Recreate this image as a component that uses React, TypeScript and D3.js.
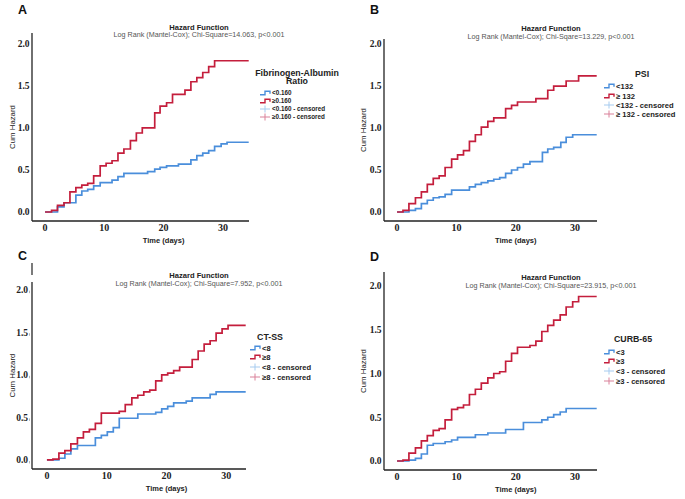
import * as d3 from "d3";

// step times (days) and cumulative hazard values
const aLowT = [2.1, 3.2, 5.2, 6.2, 7.2, 8.2, 9.3, 11.3, 12.3, 13.3, 17.3, 18.5, 19.4, 20.5, 22.5, 24.6, 25.6, 26.6, 27.6, 28.6, 29.7, 30.7];
const aLowH = [0.06, 0.11, 0.2, 0.25, 0.27, 0.31, 0.35, 0.38, 0.42, 0.46, 0.48, 0.51, 0.53, 0.55, 0.57, 0.62, 0.67, 0.7, 0.73, 0.78, 0.81, 0.83];
const aHighT = [1.1, 2.1, 3.2, 4.2, 5.2, 6.2, 7.2, 8.2, 9.3, 10.3, 11.3, 12.3, 13.3, 14.4, 15.4, 16.4, 18.5, 19.4, 20.5, 21.5, 23.6, 24.6, 25.6, 26.6, 27.6, 28.6];
const aHighH = [0.02, 0.08, 0.11, 0.24, 0.29, 0.32, 0.34, 0.43, 0.55, 0.58, 0.61, 0.7, 0.75, 0.85, 0.94, 1.0, 1.18, 1.26, 1.3, 1.4, 1.45, 1.55, 1.6, 1.66, 1.73, 1.8];

const bLowT = [2.0, 3.1, 4.1, 5.1, 6.1, 7.1, 8.1, 9.2, 12.2, 13.2, 14.2, 15.3, 16.3, 17.3, 18.3, 19.3, 20.3, 21.3, 22.4, 24.5, 25.4, 26.4, 27.6, 28.5, 29.6];
const bLowH = [0.02, 0.04, 0.1, 0.14, 0.17, 0.18, 0.21, 0.26, 0.3, 0.33, 0.35, 0.37, 0.39, 0.41, 0.46, 0.5, 0.53, 0.57, 0.6, 0.71, 0.75, 0.77, 0.83, 0.89, 0.92];
const bHighT = [1.0, 2.0, 3.1, 4.1, 5.1, 6.1, 7.1, 8.1, 9.2, 10.2, 11.2, 12.2, 13.2, 14.2, 15.3, 16.3, 18.3, 19.3, 20.3, 23.4, 25.4, 26.4, 28.5, 30.6];
const bHighH = [0.02, 0.1, 0.17, 0.24, 0.33, 0.4, 0.43, 0.53, 0.63, 0.68, 0.73, 0.84, 0.92, 1.01, 1.08, 1.12, 1.23, 1.27, 1.31, 1.35, 1.45, 1.5, 1.56, 1.62];

const cLowT = [2.0, 3.0, 4.0, 5.1, 8.1, 9.1, 10.1, 11.1, 12.1, 15.2, 18.2, 19.2, 20.2, 21.2, 23.3, 24.3, 27.3, 28.3];
const cLowH = [0.02, 0.07, 0.13, 0.17, 0.26, 0.29, 0.33, 0.38, 0.49, 0.54, 0.56, 0.6, 0.63, 0.67, 0.69, 0.73, 0.77, 0.8];
const cHighT = [1.0, 2.0, 3.0, 4.0, 5.1, 6.1, 7.1, 8.1, 9.1, 12.1, 13.1, 14.2, 15.2, 16.2, 17.2, 18.2, 19.2, 20.2, 21.2, 22.2, 24.3, 25.3, 26.3, 27.3, 28.3, 29.3, 30.3];
const cHighH = [0.01, 0.08, 0.11, 0.19, 0.26, 0.33, 0.36, 0.43, 0.55, 0.57, 0.65, 0.73, 0.76, 0.8, 0.82, 0.93, 1.0, 1.02, 1.05, 1.09, 1.18, 1.28, 1.36, 1.4, 1.49, 1.54, 1.58];

const dLowT = [2.0, 3.1, 4.1, 5.1, 6.1, 8.1, 9.2, 10.2, 13.2, 15.3, 18.3, 21.3, 24.4, 25.4, 26.4, 27.5, 28.5];
const dLowH = [0.01, 0.03, 0.08, 0.18, 0.2, 0.22, 0.24, 0.27, 0.3, 0.32, 0.36, 0.44, 0.47, 0.5, 0.53, 0.56, 0.6];
const dHighT = [1.0, 2.0, 3.1, 4.1, 5.1, 6.1, 7.1, 8.1, 9.2, 10.2, 11.2, 12.2, 13.2, 14.2, 15.3, 16.3, 17.3, 18.3, 19.3, 20.3, 22.4, 23.4, 24.4, 25.4, 26.4, 27.5, 28.5, 29.6, 30.6];
const dHighH = [0.01, 0.09, 0.15, 0.23, 0.29, 0.35, 0.37, 0.47, 0.59, 0.61, 0.64, 0.76, 0.82, 0.89, 0.95, 1.0, 1.02, 1.14, 1.23, 1.3, 1.32, 1.37, 1.48, 1.55, 1.61, 1.67, 1.76, 1.82, 1.88];

const xTicks = [0, 10, 20, 30];
const yTicks = [0, 0.5, 1.0, 1.5, 2.0];

const BLUE = "#4a8edb";
const RED = "#c41e3c";
const BLUE_C = "#a6cbef";
const RED_C = "#d98099";
const SANS = "'Liberation Sans', Arial, sans-serif";
const SERIF = "'Liberation Serif', 'Times New Roman', serif";

type Panel = {
  letter: string; lx: number; ly: number;
  left: number; right: number; top: number; bottom: number;
  xDom: [number, number]; yDom: [number, number];
  titleX: number; titleY: number; subY: number; sub: string;
  legTitle: string[]; legX: number; legTitleY: number; legYs: number[]; legFont: number; symX: number;
  labels: string[];
  low: [number[], number[]]; high: [number[], number[]];
  yLabX: number; tickMarks?: boolean; stub?: boolean;
};

const panels: Panel[] = [
  {
    letter: "A", lx: 18, ly: 14, left: 32, right: 249, top: 33, bottom: 221,
    xDom: [-2.2, 34.4], yDom: [-0.107, 2.13],
    titleX: 199, titleY: 29.5, subY: 37, sub: "Log Rank (Mantel-Cox); Chi-Square=14.063, p<0.001",
    legTitle: ["Fibrinogen-Albumin", "Ratio"], legX: 297, legTitleY: 75.5, legYs: [93, 101, 109, 117], legFont: 6.3, symX: 260,
    labels: ["<0.160", "≥0.160", "<0.160 - censored", "≥0.160 - censored"],
    low: [aLowT, aLowH], high: [aHighT, aHighH], yLabX: 12,
  },
  {
    letter: "B", lx: 370, ly: 14, left: 384, right: 597, top: 39, bottom: 221,
    xDom: [-2.2, 33.7], yDom: [-0.107, 2.06],
    titleX: 551, titleY: 31, subY: 38.5, sub: "Log Rank (Mantel-Cox); Chi-Sqare=13.229, p<0.001",
    legTitle: ["PSI"], legX: 642, legTitleY: 77, legYs: [86, 96, 105, 114], legFont: 7.6, symX: 604,
    labels: ["<132", "≥ 132", "<132 - censored", "≥ 132 - censored"],
    low: [bLowT, bLowH], high: [bHighT, bHighH], yLabX: 363,
  },
  {
    letter: "C", lx: 18, ly: 260, left: 32, right: 246, top: 282, bottom: 469,
    xDom: [-2.5, 33.3], yDom: [-0.106, 2.09],
    titleX: 199, titleY: 277.5, subY: 285.5, sub: "Log Rank (Mantel-Cox); Chi-Square=7.952, p<0.001",
    legTitle: ["CT-SS"], legX: 270, legTitleY: 339.5, legYs: [348, 357, 367, 377], legFont: 7.6, symX: 250,
    labels: ["<8", "≥8", "<8 - censored", "≥8 - censored"],
    low: [cLowT, cLowH], high: [cHighT, cHighH], yLabX: 12, tickMarks: true, stub: true,
  },
  {
    letter: "D", lx: 370, ly: 261, left: 384, right: 597, top: 272, bottom: 470,
    xDom: [-2.2, 33.7], yDom: [-0.103, 2.16],
    titleX: 551, titleY: 280, subY: 287.5, sub: "Log Rank (Mantel-Cox); Chi-Square=23.915, p<0.001",
    legTitle: ["CURB-65"], legX: 633, legTitleY: 342, legYs: [352, 361, 371, 381], legFont: 7.6, symX: 604,
    labels: ["<3", "≥3", "<3 - censored", "≥3 - censored"],
    low: [dLowT, dLowH], high: [dHighT, dHighH], yLabX: 363,
  },
];

function stepPath(p: Panel, t: number[], h: number[]) {
  const x = d3.scaleLinear().domain(p.xDom).range([p.left, p.right]);
  const y = d3.scaleLinear().domain(p.yDom).range([p.bottom, p.top]);
  const pts: [number, number][] = [[0, 0]];
  t.forEach((ti, i) => pts.push([ti, h[i]]));
  pts.push([p.xDom[1] - 0.05, h[h.length - 1]]);
  const line = d3.line<[number, number]>().x(d => x(d[0])).y(d => y(d[1])).curve(d3.curveStepAfter);
  return line(pts) ?? "";
}

function PanelView({ p }: { p: Panel }) {
  const x = d3.scaleLinear().domain(p.xDom).range([p.left, p.right]);
  const y = d3.scaleLinear().domain(p.yDom).range([p.bottom, p.top]);
  const fmt = d3.format(".1f");
  const cy = (p.top + p.bottom) / 2;
  const tx = p.symX + 12;
  return (
    <g>
      <text x={p.lx} y={p.ly} fontFamily={SANS} fontWeight="bold" fontSize={12.5} fill="#111">{p.letter}</text>
      {p.stub && <line x1={p.left} x2={p.left} y1={p.top - 19} y2={p.top - 7} stroke="#222" strokeWidth={1.2} />}
      <text x={p.titleX} y={p.titleY} textAnchor="middle" fontFamily={SANS} fontWeight="bold" fontSize={7.6} fill="#222">Hazard Function</text>
      <text x={p.titleX} y={p.subY} textAnchor="middle" fontFamily={SANS} fontSize={7.2} fill="#555">{p.sub}</text>

      <path d={stepPath(p, p.low[0], p.low[1])} fill="none" stroke={BLUE} strokeWidth={1.7} />
      <path d={stepPath(p, p.high[0], p.high[1])} fill="none" stroke={RED} strokeWidth={1.7} />

      <line x1={p.left} x2={p.left} y1={p.top} y2={p.bottom} stroke="#222" strokeWidth={1.3} />
      <line x1={p.left} x2={p.right} y1={p.bottom} y2={p.bottom} stroke="#222" strokeWidth={1.3} />

      {yTicks.map(v => (
        <g key={v}>
          <text x={p.left - (p.tickMarks ? 4 : 2.5)} y={y(v)} dy="0.35em" textAnchor="end" fontFamily={SERIF} fontWeight="bold" fontSize={9.5} fill="#222">{fmt(v)}</text>
          {p.tickMarks && <line x1={p.left - 2.5} x2={p.left - 2.5} y1={y(v) + 1} y2={y(v) + 3.5} stroke="#999" strokeWidth={0.7} />}
        </g>
      ))}
      {xTicks.map(v => (
        <text key={v} x={x(v)} y={p.bottom + 9.5} textAnchor="middle" fontFamily={SERIF} fontWeight="bold" fontSize={10} fill="#222">{v}</text>
      ))}
      <text transform={`translate(${p.yLabX},${cy}) rotate(-90)`} textAnchor="middle" dy="0.35em" fontFamily={SANS} fontSize={7.8} fill="#222">Cum Hazard</text>
      <text x={x(20)} y={p.bottom + 21.5} textAnchor="middle" fontFamily={SANS} fontWeight="bold" fontSize={7.5} fill="#222">Time (days)</text>

      {p.legTitle.map((s, i) => (
        <text key={s} x={p.legX} y={p.legTitleY + i * 8.5} textAnchor="middle" fontFamily={SANS} fontWeight="bold" fontSize={8.8} fill="#222">{s}</text>
      ))}
      {p.labels.map((s, i) => {
        const ly = p.legYs[i];
        const col = [BLUE, RED, BLUE_C, RED_C][i];
        return (
          <g key={s}>
            {i < 2 ? (
              <path d={`M${p.symX},${ly + 1.8}H${p.symX + 5}V${ly - 1.8}H${p.symX + 10}V${ly + 0.8}`} fill="none" stroke={col} strokeWidth={1.4} />
            ) : (
              <g stroke={col} strokeWidth={1}>
                <line x1={p.symX} x2={p.symX + 10} y1={ly} y2={ly} />
                <line x1={p.symX + 5} x2={p.symX + 5} y1={ly - 3.5} y2={ly + 3.5} />
              </g>
            )}
            <text x={tx} y={ly} dy="0.35em" fontFamily={SANS} fontWeight="bold" fontSize={p.legFont} fill="#222">{s}</text>
          </g>
        );
      })}
    </g>
  );
}

export default function App() {
  return (
    <svg width={685} height={499} viewBox="0 0 685 499" style={{ position: "absolute", left: 0, top: 0, background: "#fff" }}>
      <rect width={685} height={499} fill="#fff" />
      {panels.map(p => <PanelView key={p.letter} p={p} />)}
    </svg>
  );
}
